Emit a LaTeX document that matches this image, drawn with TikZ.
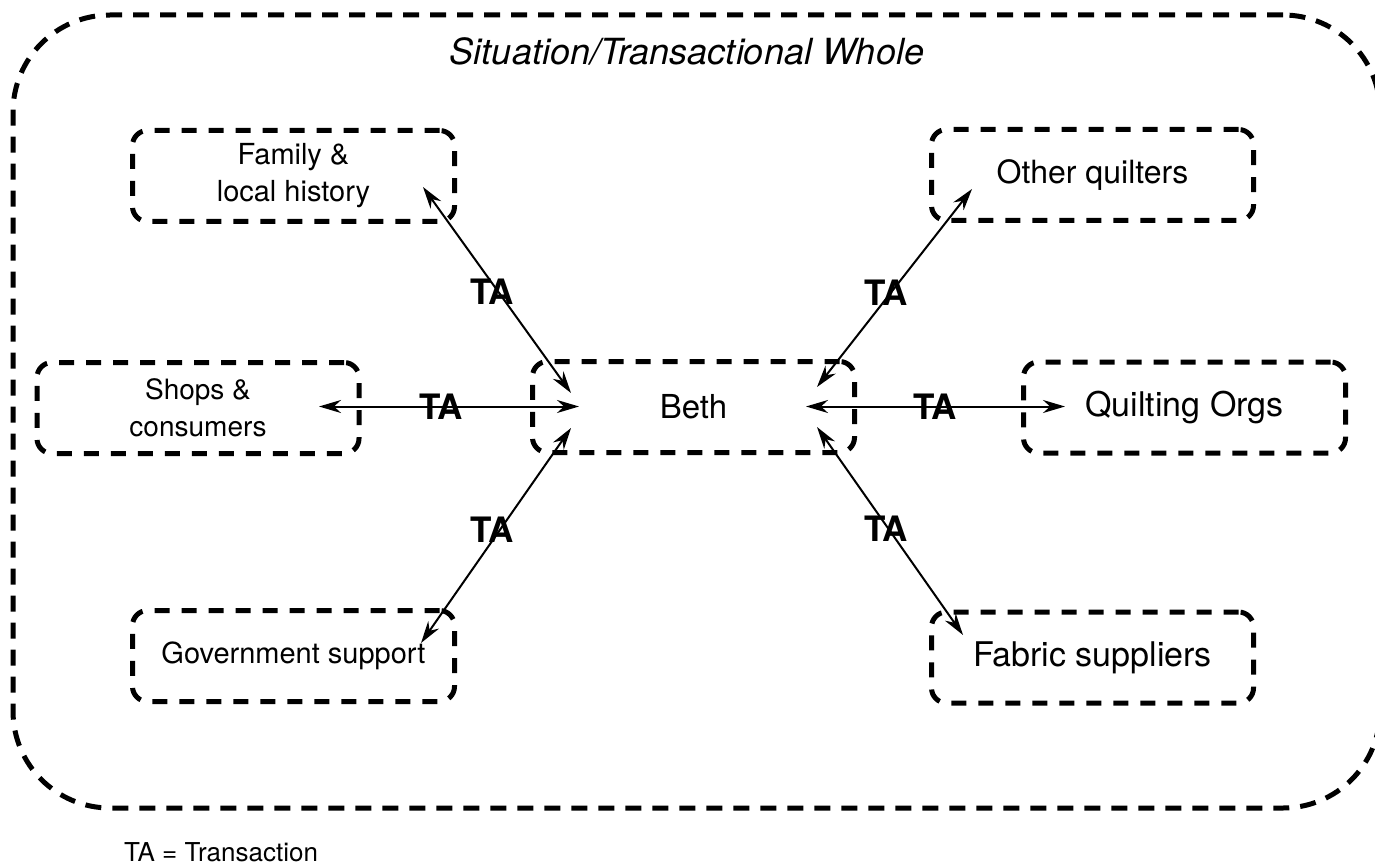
\documentclass[tikz,border=0pt]{standalone}
\usepackage{fontspec}
\setmainfont{TeX Gyre Heros}
\usetikzlibrary{arrows.meta,calc}
\begin{document}
\begin{tikzpicture}[x=1pt,y=-1pt,
  dbox/.style={draw, line width=5pt, dash pattern=on 15pt off 12pt, rounded corners=15pt,
    minimum width=322pt, minimum height=91pt, inner sep=0pt, align=center},
  link/.style={line width=2pt,
    {Stealth[length=22pt,width=13pt,inset=7pt]}-{Stealth[length=22pt,width=13pt,inset=7pt]}},
  talabel/.style={font=\fontsize{35}{40}\selectfont\bfseries, inner sep=0pt},
]
\useasboundingbox (0,0) rectangle (1375,866);

% outer whole
\node[draw, line width=5pt, dash pattern=on 16pt off 11pt, rounded corners=97pt,
  minimum width=1367pt, minimum height=793pt, inner sep=0pt] (whole) at (696.5,411.5) {};
\node[anchor=base, font=\fontsize{36}{42}\selectfont\itshape, inner sep=0pt] (title) at (687,65)
  {Situation/Transactional Whole};

% boxes
\node[dbox, font=\fontsize{29}{37}\selectfont] (fam) at (293.5,176) {Family \&\\local history};
\node[dbox, font=\fontsize{32}{38}\selectfont] (oth) at (1092.5,175) {Other quilters};
\node[dbox, font=\fontsize{28}{37.5}\selectfont] (shp) at (198,408) {Shops \&\\consumers};
\node[dbox, font=\fontsize{33}{38}\selectfont] (beth) at (693.5,407) {Beth};
\node[dbox, font=\fontsize{34}{40}\selectfont] (qo) at (1184.5,407.5) {Quilting Orgs};
\node[dbox, font=\fontsize{29}{35}\selectfont] (gov) at (293.5,656) {Government support};
\node[dbox, font=\fontsize{34}{40}\selectfont] (fab) at (1092.5,657.5) {Fabric suppliers};

% arrow ends (inside the boxes)
\coordinate (famE) at ($(fam.center)+(129.5,11)$);
\coordinate (othE) at ($(oth.center)+(-120.5,14)$);
\coordinate (shpE) at ($(shp.center)+(121,-1.5)$);
\coordinate (qoE)  at ($(qo.center)+(-119.5,-1)$);
\coordinate (govE) at ($(gov.center)+(127.5,-13)$);
\coordinate (fabE) at ($(fab.center)+(-129.5,-22.5)$);
\coordinate (b1) at ($(beth.center)+(-122.5,-14)$);
\coordinate (b2) at ($(beth.center)+(123.5,-20)$);
\coordinate (b3) at ($(beth.center)+(-114.5,-0.5)$);
\coordinate (b4) at ($(beth.center)+(112.5,-0.5)$);
\coordinate (b5) at ($(beth.center)+(-122.5,21)$);
\coordinate (b6) at ($(beth.center)+(123.5,20)$);

\draw[link] (famE) -- (b1);
\draw[link] (othE) -- (b2);
\draw[link] (shpE) -- (b3);
\draw[link] (b4) -- (qoE);
\draw[link] (govE) -- (b5);
\draw[link] (fabE) -- (b6);

% labels
\node[talabel] (ta1) at (492,292) {TA};
\node[talabel] (ta2) at (886,293) {TA};
\node[talabel] (ta3) at (441,407) {TA};
\node[talabel] (ta4) at (935,407) {TA};
\node[talabel] (ta5) at (492,530) {TA};
\node[talabel] (ta6) at (886,529) {TA};

\node[anchor=base west, font=\fontsize{26}{30}\selectfont, inner sep=0pt] (legend) at (124,861)
  {TA = Transaction};
\end{tikzpicture}
\end{document}
